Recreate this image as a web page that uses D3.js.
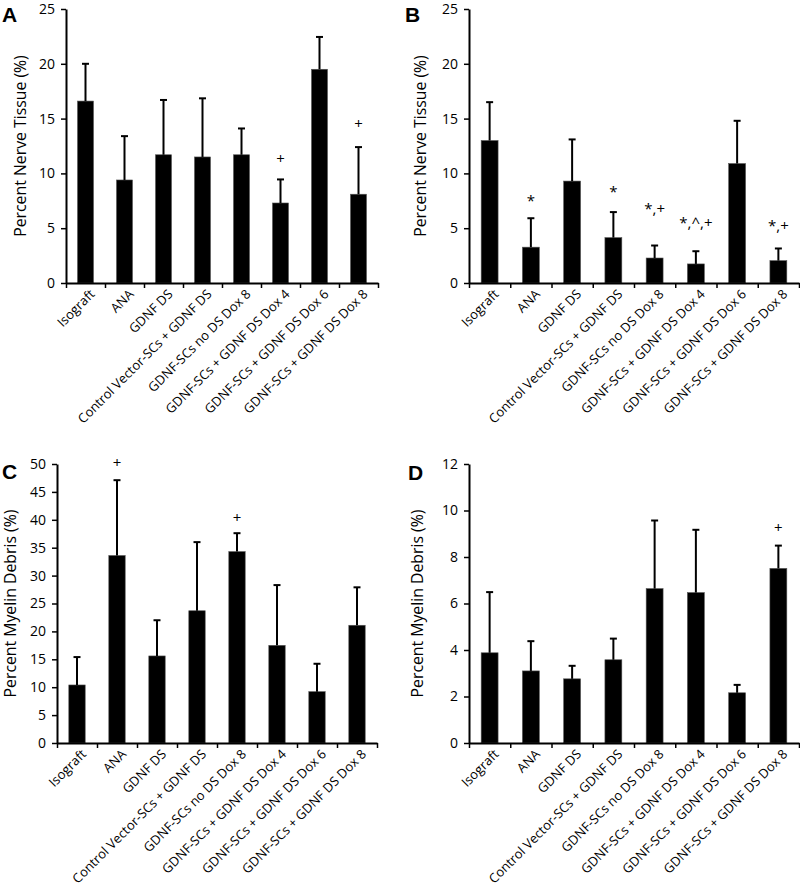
<!DOCTYPE html>
<html>
<head>
<meta charset="utf-8">
<script src="https://cdn.jsdelivr.net/npm/d3@7"></script>
<style>
  body { margin: 0; background: #fff; }
  text { font-family: "Open Sans", sans-serif; fill: #000; }
</style>
</head>
<body>
<svg id="chart" width="800" height="890"></svg>
<script>
// groups on the x axis (same for all four panels)
const categories = [
  "Isograft", "ANA", "GDNF DS", "Control Vector-SCs + GDNF DS",
  "GDNF-SCs no DS Dox 8", "GDNF-SCs + GDNF DS Dox 4",
  "GDNF-SCs + GDNF DS Dox 6", "GDNF-SCs + GDNF DS Dox 8"
];

// A - percent nerve tissue (first time point)
const nerveA = [16.6, 9.4, 11.7, 11.5, 11.7, 7.3, 19.5, 8.1];
const nerveAErr = [3.4, 4.0, 5.0, 5.35, 2.4, 2.15, 2.95, 4.3];
const nerveAMarks = ["", "", "", "", "", "+", "", "+"];
const nerveAMarkAt = [null, null, null, null, null, 10.84, null, 14.05];

// B - percent nerve tissue (second time point)
const nerveB = [13.0, 3.27, 9.3, 4.14, 2.28, 1.74, 10.9, 2.04];
const nerveBErr = [3.5, 2.64, 3.8, 2.33, 1.14, 1.16, 3.9, 1.11];
const nerveBMarks = ["", "*", "", "*", "*,+", "*,^,+", "", "*,+"];
const nerveBMarkAt = [null, 6.98, null, 7.88, 6.29, 5.03, null, 4.72];

// C - percent myelin debris (first time point)
const debrisC = [10.4, 33.6, 15.6, 23.7, 34.3, 17.5, 9.2, 21.1];
const debrisCErr = [5.0, 13.5, 6.4, 12.3, 3.3, 10.8, 5.0, 6.8];
const debrisCMarks = ["", "+", "", "", "+", "", "", ""];
const debrisCMarkAt = [null, 49.3, null, null, 39.35, null, null, null];

// D - percent myelin debris (second time point)
const debrisD = [3.88, 3.10, 2.76, 3.58, 6.64, 6.47, 2.16, 7.51];
const debrisDErr = [2.61, 1.28, 0.56, 0.91, 2.93, 2.70, 0.34, 0.98];
const debrisDMarks = ["", "", "", "", "", "", "", "+"];
const debrisDMarkAt = [null, null, null, null, null, null, null, 9.03];

const svg = d3.select("#chart");

function drawPanel({ letter, values, errs, marks, markAt, yMax, yStep, yTitle,
                     left, right, top, bottom, titleX, letterX, letterY }) {
  const g = svg.append("g");

  const y = d3.scaleLinear().domain([0, yMax]).range([bottom, top]);
  const x = d3.scaleBand().domain(categories).range([left, right])
    .paddingInner(0.59).paddingOuter(0.295);
  // boundaries between groups, for the x tick marks
  const xb = d3.scaleLinear().domain([0, categories.length]).range([left, right]);

  // bars
  g.selectAll("rect.bar").data(values).join("rect")
    .attr("class", "bar")
    .attr("x", (d, i) => x(categories[i]))
    .attr("y", d => y(d))
    .attr("width", x.bandwidth())
    .attr("height", d => y(0) - y(d))
    .attr("fill", "#000")
    .attr("stroke", "#555")
    .attr("stroke-width", 0.6);

  // upper error bars
  const cx = i => x(categories[i]) + x.bandwidth() / 2;
  g.selectAll("line.err").data(values).join("line")
    .attr("class", "err")
    .attr("x1", (d, i) => cx(i)).attr("x2", (d, i) => cx(i))
    .attr("y1", d => y(d)).attr("y2", (d, i) => y(d + errs[i]))
    .attr("stroke", "#000").attr("stroke-width", 2);
  g.selectAll("line.cap").data(values).join("line")
    .attr("class", "cap")
    .attr("x1", (d, i) => cx(i) - 3.5).attr("x2", (d, i) => cx(i) + 3.5)
    .attr("y1", (d, i) => y(d + errs[i])).attr("y2", (d, i) => y(d + errs[i]))
    .attr("stroke", "#000").attr("stroke-width", 2);

  // significance marks
  g.selectAll("text.mark").data(marks).join("text")
    .attr("class", "mark")
    .attr("x", (d, i) => cx(i))
    .attr("y", (d, i) => markAt[i] == null ? 0 : y(markAt[i]))
    .attr("text-anchor", "middle")
    .style("font-size", "15px")
    .text(d => d);

  // y axis
  const yAxis = d3.axisLeft(y)
    .tickValues(d3.range(0, yMax + 0.001, yStep))
    .tickSize(5).tickSizeOuter(0).tickPadding(6);
  g.append("g")
    .attr("transform", `translate(${left},0)`)
    .call(yAxis)
    .call(a => a.select(".domain").attr("stroke-width", 2))
    .call(a => a.selectAll(".tick line").attr("stroke-width", 1.5))
    .call(a => a.selectAll(".tick text").style("font-size", "14px").style("font-family", "'Open Sans', sans-serif").attr("fill", "#111"));

  // x axis: ticks at group boundaries, labels rotated under each bar
  const xAxis = d3.axisBottom(xb).ticks(categories.length)
    .tickSize(5).tickSizeOuter(0).tickFormat("");
  g.append("g")
    .attr("transform", `translate(0,${bottom})`)
    .call(xAxis)
    .call(a => a.select(".domain").attr("stroke-width", 2))
    .call(a => a.selectAll(".tick line").attr("stroke-width", 1.5));

  g.selectAll("text.cat").data(categories).join("text")
    .attr("class", "cat")
    .attr("transform", (d, i) => `translate(${cx(i) + 10},${bottom + 12}) rotate(-45)`)
    .attr("text-anchor", "end")
    .style("font-size", "13px")
    .text(d => d);

  // y title
  g.append("text")
    .attr("transform", `translate(${titleX},${(top + bottom) / 2}) rotate(-90)`)
    .attr("text-anchor", "middle")
    .style("font-size", "15.8px")
    .text(yTitle);

  // panel letter
  g.append("text")
    .attr("x", letterX).attr("y", letterY)
    .style("font-family", "'Liberation Sans', Arial, sans-serif")
    .style("font-weight", "bold")
    .style("font-size", "21px")
    .text(letter);
}

drawPanel({ letter: "A", values: nerveA, errs: nerveAErr, marks: nerveAMarks, markAt: nerveAMarkAt,
  yMax: 25, yStep: 5, yTitle: "Percent Nerve Tissue (%)",
  left: 66, right: 378, top: 9, bottom: 283, titleX: 26, letterX: 2, letterY: 22 });

drawPanel({ letter: "B", values: nerveB, errs: nerveBErr, marks: nerveBMarks, markAt: nerveBMarkAt,
  yMax: 25, yStep: 5, yTitle: "Percent Nerve Tissue (%)",
  left: 469, right: 799, top: 9, bottom: 283, titleX: 426, letterX: 405, letterY: 22 });

drawPanel({ letter: "C", values: debrisC, errs: debrisCErr, marks: debrisCMarks, markAt: debrisCMarkAt,
  yMax: 50, yStep: 5, yTitle: "Percent Myelin Debris (%)",
  left: 57, right: 377, top: 464, bottom: 743, titleX: 16, letterX: 2, letterY: 479 });

drawPanel({ letter: "D", values: debrisD, errs: debrisDErr, marks: debrisDMarks, markAt: debrisDMarkAt,
  yMax: 12, yStep: 2, yTitle: "Percent Myelin Debris (%)",
  left: 469, right: 799, top: 464, bottom: 743, titleX: 423, letterX: 408, letterY: 480 });
</script>
</body>
</html>
